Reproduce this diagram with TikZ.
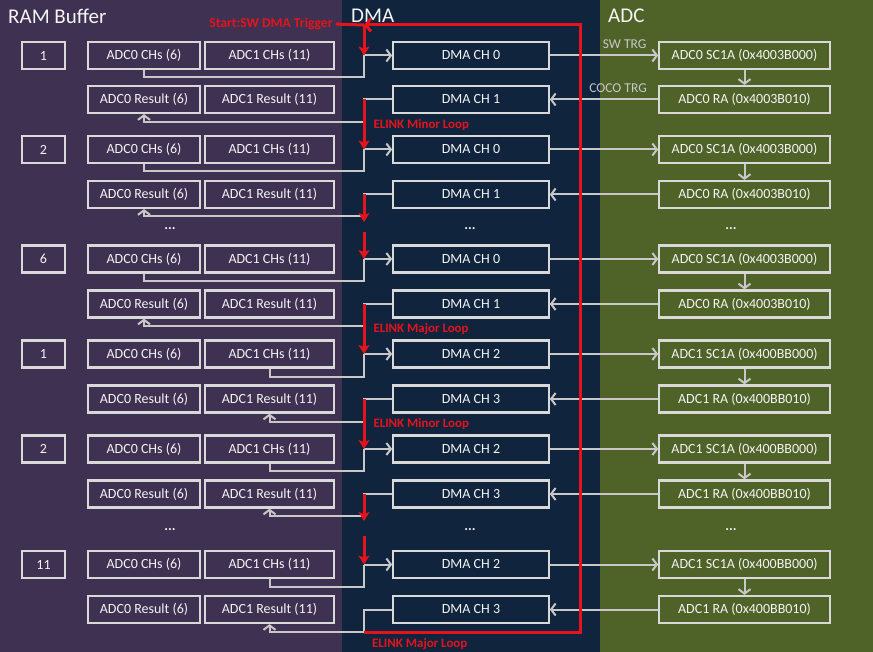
\documentclass[tikz,border=0pt]{standalone}
\usepackage{fontspec}
\setmainfont{Carlito}
\usetikzlibrary{arrows.meta,calc}
\definecolor{rampurple}{HTML}{3F3151}
\definecolor{dmanavy}{HTML}{10243E}
\definecolor{adcolive}{HTML}{4F6228}
\definecolor{boxline}{HTML}{D9D9D9}
\definecolor{wiregray}{HTML}{C8C8C8}
\definecolor{boxtext}{HTML}{F4F4F4}
\definecolor{linkred}{HTML}{E5131C}
\tikzset{
  box/.style={draw=boxline, line width=2.2pt, text=boxtext, inner sep=0pt,
    minimum height=27pt, font=\fontsize{14}{16}\selectfont},
  numbox/.style={box, minimum width=42.5pt},
  bufa/.style={box, minimum width=111.5pt},
  bufb/.style={box, minimum width=128.5pt},
  dmabox/.style={box, minimum width=155.5pt},
  adcbox/.style={box, minimum width=170.5pt},
  heading/.style={text=boxtext, anchor=west, inner sep=0pt, font=\fontsize{21}{25}\selectfont},
  dots/.style={text=boxtext, inner sep=0pt, font=\bfseries\fontsize{14}{16}\selectfont},
  trg/.style={text=wiregray, inner sep=0pt, font=\fontsize{13.5}{16}\selectfont},
  wire/.style={draw=wiregray, line width=2pt},
  arr/.style={wire, -{Straight Barb[length=4.5pt,width=12pt]}},
  redline/.style={draw=linkred, line width=3pt},
  redarr/.style={redline, -{Stealth[length=9pt,width=11pt,inset=2pt]}},
  elink/.style={text=linkred, inner sep=0pt, font=\bfseries\fontsize{12.9}{15}\selectfont},
}
\begin{document}
\begin{tikzpicture}[x=1pt, y=-1pt]
\useasboundingbox (0,0) rectangle (873,652);
\fill [rampurple] (0,0) rectangle (342,652);
\fill [dmanavy] (342,0) rectangle (600,652);
\fill [adcolive] (600,0) rectangle (873,652);

\node [heading] (hram) at (8,16)   {RAM Buffer};
\node [heading] (hdma) at (351,16) {DMA};
\node [heading] (hadc) at (608,16) {ADC};

% step 1
\node [numbox] (n1)  at (43.5,55.5)  {1};
\node [bufa]   (ca1) at (144,55.5)   {ADC0 CHs (6)};
\node [bufb]   (cb1) at (269.5,55.5) {ADC1 CHs (11)};
\node [bufa]   (ra1) at (144,99.5)   {ADC0 Result (6)};
\node [bufb]   (rb1) at (269.5,99.5) {ADC1 Result (11)};
\node [dmabox] (dq1) at (471,55.5)   {DMA CH 0};
\node [dmabox] (dr1) at (471,99.5)   {DMA CH 1};
\node [adcbox] (sc1) at (744.5,55.5) {ADC0 SC1A (0x4003B000)};
\node [adcbox] (ar1) at (744.5,99.5) {ADC0 RA (0x4003B010)};
\coordinate (bq1) at (364,55.5);
\coordinate (lq1) at (364,77.5);
\coordinate (br1) at (364,99.5);
\coordinate (lr1) at (364,122);
\draw [wire] (ca1.south) |- (lq1) -- (bq1);
\draw [arr]  (bq1) -- (dq1);
\draw [arr]  (dr1.west) -| (lr1) -| (ra1.south);
\draw [arr]  (dq1) -- node [trg, pos=0.69, above=6pt] {SW TRG} (sc1);
\draw [arr]  (sc1) -- (ar1);
\draw [arr]  (ar1) -- node [trg, pos=0.37, above=6pt] {COCO TRG} (dr1);

% step 2
\node [numbox] (n2)  at (43.5,149.5)  {2};
\node [bufa]   (ca2) at (144,149.5)   {ADC0 CHs (6)};
\node [bufb]   (cb2) at (269.5,149.5) {ADC1 CHs (11)};
\node [bufa]   (ra2) at (144,194.5)   {ADC0 Result (6)};
\node [bufb]   (rb2) at (269.5,194.5) {ADC1 Result (11)};
\node [dmabox] (dq2) at (471,149.5)   {DMA CH 0};
\node [dmabox] (dr2) at (471,194.5)   {DMA CH 1};
\node [adcbox] (sc2) at (744.5,149.5) {ADC0 SC1A (0x4003B000)};
\node [adcbox] (ar2) at (744.5,194.5) {ADC0 RA (0x4003B010)};
\coordinate (bq2) at (364,149.5);
\coordinate (lq2) at (364,171.5);
\coordinate (br2) at (364,194.5);
\coordinate (lr2) at (364,216.5);
\draw [wire] (ca2.south) |- (lq2) -- (bq2);
\draw [arr]  (bq2) -- (dq2);
\draw [arr]  (dr2.west) -| (lr2) -| (ra2.south);
\draw [arr]  (dq2) -- (sc2);
\draw [arr]  (sc2) -- (ar2);
\draw [arr]  (ar2) -- (dr2);

\node [dots] (da1) at (170,229) {...};
\node [dots] (dd1) at (470,229) {...};
\node [dots] (dc1) at (731,229) {...};

% step 6
\node [numbox] (n3)  at (43.5,259)  {6};
\node [bufa]   (ca3) at (144,259)   {ADC0 CHs (6)};
\node [bufb]   (cb3) at (269.5,259) {ADC1 CHs (11)};
\node [bufa]   (ra3) at (144,304)   {ADC0 Result (6)};
\node [bufb]   (rb3) at (269.5,304) {ADC1 Result (11)};
\node [dmabox] (dq3) at (471,259)   {DMA CH 0};
\node [dmabox] (dr3) at (471,304)   {DMA CH 1};
\node [adcbox] (sc3) at (744.5,259) {ADC0 SC1A (0x4003B000)};
\node [adcbox] (ar3) at (744.5,304) {ADC0 RA (0x4003B010)};
\coordinate (bq3) at (364,259);
\coordinate (lq3) at (364,281);
\coordinate (br3) at (364,304);
\coordinate (lr3) at (364,326);
\draw [wire] (ca3.south) |- (lq3) -- (bq3);
\draw [arr]  (bq3) -- (dq3);
\draw [arr]  (dr3.west) -| (lr3) -| (ra3.south);
\draw [arr]  (dq3) -- (sc3);
\draw [arr]  (sc3) -- (ar3);
\draw [arr]  (ar3) -- (dr3);

% step 1, ADC1
\node [numbox] (n4)  at (43.5,354)  {1};
\node [bufa]   (ca4) at (144,354)   {ADC0 CHs (6)};
\node [bufb]   (cb4) at (269.5,354) {ADC1 CHs (11)};
\node [bufa]   (ra4) at (144,399)   {ADC0 Result (6)};
\node [bufb]   (rb4) at (269.5,399) {ADC1 Result (11)};
\node [dmabox] (dq4) at (471,354)   {DMA CH 2};
\node [dmabox] (dr4) at (471,399)   {DMA CH 3};
\node [adcbox] (sc4) at (744.5,354) {ADC1 SC1A (0x400BB000)};
\node [adcbox] (ar4) at (744.5,399) {ADC1 RA (0x400BB010)};
\coordinate (bq4) at (364,354);
\coordinate (lq4) at (364,376.5);
\coordinate (br4) at (364,399);
\coordinate (lr4) at (364,422);
\draw [wire] (cb4.south) |- (lq4) -- (bq4);
\draw [arr]  (bq4) -- (dq4);
\draw [arr]  (dr4.west) -| (lr4) -| (rb4.south);
\draw [arr]  (dq4) -- (sc4);
\draw [arr]  (sc4) -- (ar4);
\draw [arr]  (ar4) -- (dr4);

% step 2, ADC1
\node [numbox] (n5)  at (43.5,449)  {2};
\node [bufa]   (ca5) at (144,449)   {ADC0 CHs (6)};
\node [bufb]   (cb5) at (269.5,449) {ADC1 CHs (11)};
\node [bufa]   (ra5) at (144,494)   {ADC0 Result (6)};
\node [bufb]   (rb5) at (269.5,494) {ADC1 Result (11)};
\node [dmabox] (dq5) at (471,449)   {DMA CH 2};
\node [dmabox] (dr5) at (471,494)   {DMA CH 3};
\node [adcbox] (sc5) at (744.5,449) {ADC1 SC1A (0x400BB000)};
\node [adcbox] (ar5) at (744.5,494) {ADC1 RA (0x400BB010)};
\coordinate (bq5) at (364,449);
\coordinate (lq5) at (364,471);
\coordinate (br5) at (364,494);
\coordinate (lr5) at (364,516);
\draw [wire] (cb5.south) |- (lq5) -- (bq5);
\draw [arr]  (bq5) -- (dq5);
\draw [arr]  (dr5.west) -| (lr5) -| (rb5.south);
\draw [arr]  (dq5) -- (sc5);
\draw [arr]  (sc5) -- (ar5);
\draw [arr]  (ar5) -- (dr5);

\node [dots] (da2) at (170,530) {...};
\node [dots] (dd2) at (470,530) {...};
\node [dots] (dc2) at (731,530) {...};

% step 11, ADC1
\node [numbox] (n6)  at (43.5,564.5)  {11};
\node [bufa]   (ca6) at (144,564.5)   {ADC0 CHs (6)};
\node [bufb]   (cb6) at (269.5,564.5) {ADC1 CHs (11)};
\node [bufa]   (ra6) at (144,609.5)   {ADC0 Result (6)};
\node [bufb]   (rb6) at (269.5,609.5) {ADC1 Result (11)};
\node [dmabox] (dq6) at (471,564.5)   {DMA CH 2};
\node [dmabox] (dr6) at (471,609.5)   {DMA CH 3};
\node [adcbox] (sc6) at (744.5,564.5) {ADC1 SC1A (0x400BB000)};
\node [adcbox] (ar6) at (744.5,609.5) {ADC1 RA (0x400BB010)};
\coordinate (bq6) at (364,564.5);
\coordinate (lq6) at (364,587);
\coordinate (br6) at (364,609.5);
\coordinate (lr6) at (364,632);
\draw [wire] (cb6.south) |- (lq6) -- (bq6);
\draw [arr]  (bq6) -- (dq6);
\draw [arr]  (dr6.west) -| (lr6) -| (rb6.south);
\draw [arr]  (dq6) -- (sc6);
\draw [arr]  (sc6) -- (ar6);
\draw [arr]  (ar6) -- (dr6);

% elink chain
\node [elink, font=\bfseries\fontsize{13.6}{16}\selectfont] (start) at (271,24) {Start:SW DMA Trigger};
\coordinate (tp)  at (364,25);
\coordinate (lpt) at (580,25);
\coordinate (lpb) at (580,632);
\coordinate (ga1) at (364,222);
\coordinate (gb1) at (364,232);
\coordinate (ga2) at (364,521);
\coordinate (gb2) at (364,536);
\draw [redline, shorten <=3pt] (start.east) -- (tp);
\draw [redline, -{Straight Barb[length=5pt,width=13pt]}] (lr6) -- (lpb) -- (lpt) -- (tp);
\draw [redarr] (tp) -- (bq1);
\draw [redarr] (br1) -- node [elink, right=8pt] {ELINK Minor Loop} (bq2);
\draw [redarr] (br2) -- (ga1);
\draw [redarr] (gb1) -- (bq3);
\draw [redarr] (br3) -- node [elink, right=8pt] {ELINK Major Loop} (bq4);
\draw [redarr] (br4) -- node [elink, right=8pt] {ELINK Minor Loop} (bq5);
\draw [redarr] (br5) -- (ga2);
\draw [redarr] (gb2) -- (bq6);
\node [elink, anchor=west] (major) at (372,644) {ELINK Major Loop};
\end{tikzpicture}
\end{document}
